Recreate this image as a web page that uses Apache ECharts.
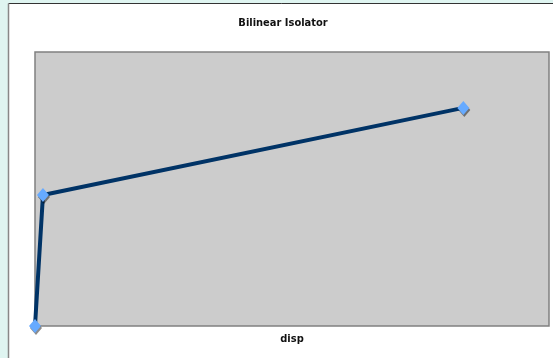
<!DOCTYPE html>
<html>
<head>
<meta charset="utf-8">
<script src="https://cdn.jsdelivr.net/npm/echarts@6/dist/echarts.min.js"></script>
<style>
html,body{margin:0;padding:0;background:#dff5f1;}
#chart{width:553px;height:358px;}
</style>
</head>
<body>
<div id="chart"></div>
<script>
const titleText = "Bilinear Isolator";
const xName = "disp";
const dispValues = [0, 0.093, 5.0];
const forceValues = [0, 47.8, 79.6];
const xMax = 6;
const yMax = 100;

const chart = echarts.init(document.getElementById('chart'), null, {renderer: 'canvas'});
const data = dispValues.map((d, i) => [d, forceValues[i]]);
chart.setOption({
  animation: false,
  backgroundColor: '#dff5f1',
  graphic: [
    {type: 'rect', z: -10, shape: {x: 8.5, y: 3.5, width: 560, height: 370},
     style: {fill: '#ffffff', stroke: null}},
    {type: 'line', z: -9, shape: {x1: 8.5, y1: 3.5, x2: 560, y2: 3.5}, style: {stroke: '#333333', lineWidth: 1}},
    {type: 'line', z: -9, shape: {x1: 8.5, y1: 3.5, x2: 8.5, y2: 370}, style: {stroke: '#888888', lineWidth: 1.5}},
    {type: 'text', z: 10, style: {text: titleText, x: 283, y: 23, align: 'center', verticalAlign: 'middle',
      font: 'bold 11px "DejaVu Sans Condensed", "Liberation Sans", sans-serif', fill: '#111111'}}
  ],
  grid: {left: 35, top: 52, right: 4, bottom: 32, show: true, backgroundColor: '#cccccc',
         borderColor: '#808080', borderWidth: 1.5},
  xAxis: {type: 'value', min: 0, max: xMax, name: xName, nameLocation: 'middle', nameGap: 8,
          nameTextStyle: {fontWeight: 'bold', fontSize: 11, color: '#111111',
                          fontFamily: '"DejaVu Sans Condensed", "Liberation Sans", sans-serif'},
          axisLine: {show: false}, axisTick: {show: false}, axisLabel: {show: false}, splitLine: {show: false}},
  yAxis: {type: 'value', min: 0, max: yMax,
          axisLine: {show: false}, axisTick: {show: false}, axisLabel: {show: false}, splitLine: {show: false}},
  series: [{
    type: 'line', data: data, clip: false,
    symbol: 'diamond', symbolSize: [12, 14],
    lineStyle: {color: '#003366', width: 4},
    itemStyle: {color: '#66aaff', shadowColor: 'rgba(0,0,0,0.45)', shadowOffsetX: 1, shadowOffsetY: 2, shadowBlur: 0}
  }]
});
</script>
</body>
</html>
